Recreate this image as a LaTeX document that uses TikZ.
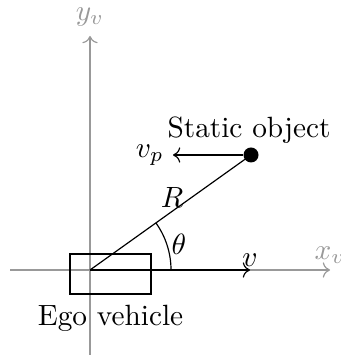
\documentclass[tikz,border=0pt]{standalone}
\usetikzlibrary{arrows.meta}
\begin{document}
\begin{tikzpicture}[x=0.012cm,y=0.012cm,
  axis/.style={draw=gray!80,->},
  axlabel/.style={text=gray!80},
  arr/.style={draw=black,->}]
\useasboundingbox (0,0) rectangle (340,356);
% coordinates
\coordinate (O) at (90,86);
\coordinate (xs) at (10,86);
\coordinate (xe) at (330,86);
\coordinate (ys) at (90,1);
\coordinate (ye) at (90,320);
\coordinate (ve) at (250,86);
\coordinate (vpe) at (173,201);
% axes
\draw[axis] (xs) -- (xe);
\draw[axis] (ys) -- (ye);
\node[axlabel,anchor=south,inner sep=2pt] (xl) at (xe) {$x_v$};
\node[axlabel] (yl) at (90,339) {$y_v$};
% ego vehicle
\node[draw,minimum width=81*0.012cm,minimum height=40*0.012cm,inner sep=0pt] (car) at (110.5,82) {};
\node[anchor=north] (carl) at (car.south) {Ego vehicle};
% object
\node[circle,fill=black,minimum size=15*0.012cm,inner sep=0pt] (P) at (251,201) {};
\node[anchor=south] (pl) at (249,202) {Static object};
% connectors
\draw (O) -- (P.center);
\draw[arr] (O) -- (ve);
\node[anchor=south,inner sep=1pt] (vl) at (ve) {$v$};
\draw[arr] (P) -- (vpe);
\node[anchor=east,inner sep=3pt] (vpl) at (vpe) {$v_p$};
\node (Rl) at (172,159) {$R$};
\draw (171,86) arc[start angle=0,end angle=35.54,radius=81];
\node (th) at (179,112) {$\theta$};
\end{tikzpicture}
\end{document}
